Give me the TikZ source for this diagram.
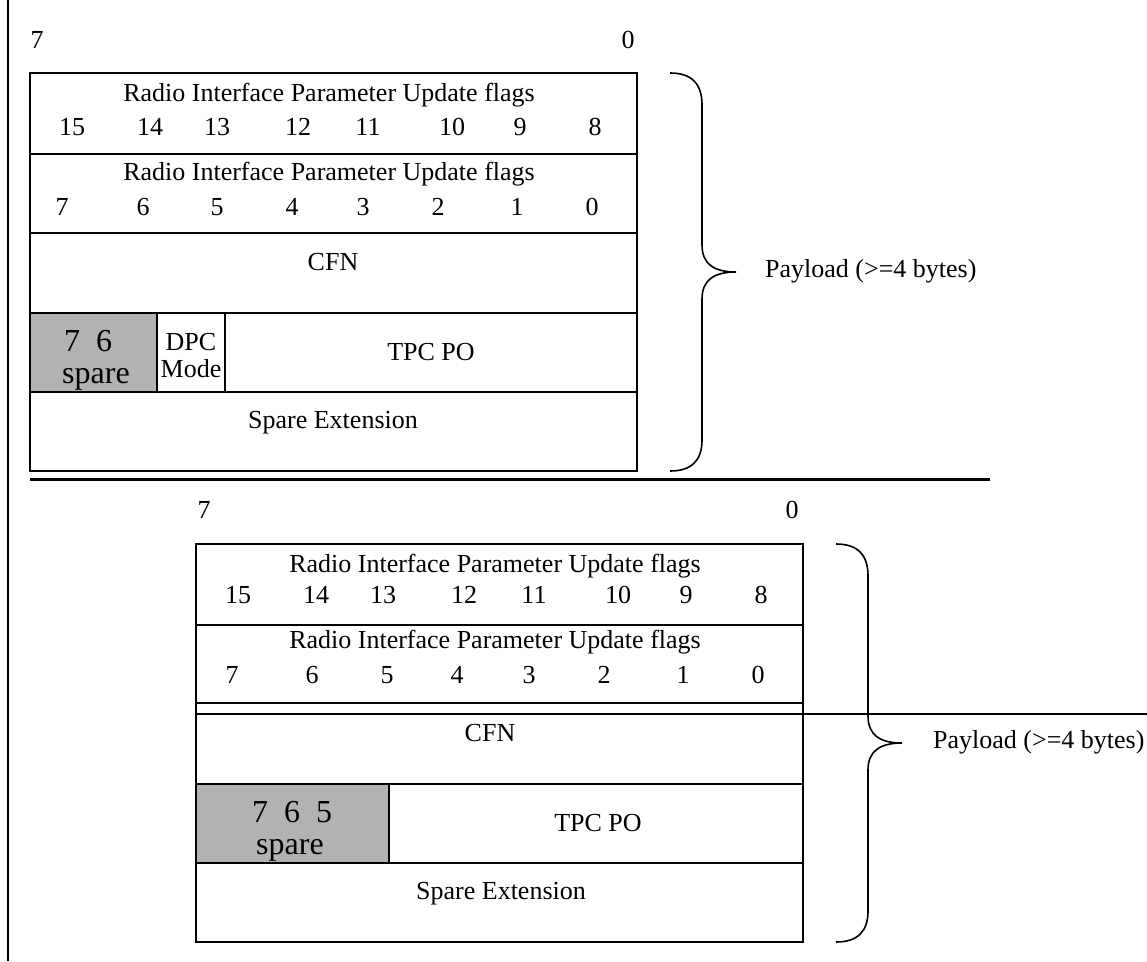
\documentclass[tikz,border=0pt]{standalone}
\usepackage{fontspec}
\setmainfont{Liberation Serif}
\usetikzlibrary{positioning}
\tikzstyle{frame}=[draw, line width=1.6pt]
\tikzstyle{sparecell}=[frame, fill=black!30]
\tikzstyle{lbl}=[inner sep=0pt, anchor=base, font=\fontsize{26}{30}\selectfont]
\tikzstyle{biglbl}=[inner sep=0pt, anchor=base, font=\fontsize{32}{36}\selectfont]
\tikzstyle{brace}=[line width=1.6pt]

\begin{document}
\begin{tikzpicture}[x=1pt,y=-1pt]
\useasboundingbox (0,0) rectangle (1147,961);

% margin line on the left
\draw[line width=2pt] (8,0) -- (8,961);

% upper frame layout (with DPC Mode)
\node (msbA) [lbl] at (37,48) {7};
\node (lsbA) [lbl] at (628,48) {0};
\filldraw[sparecell] (30,313) rectangle (157,392);
\draw[frame] (157,313) rectangle (225,392);
\draw[frame] (30,73) rectangle (637,471);
\foreach \y in {154,233,313,392}
  \draw[frame] (30,\y) -- (637,\y);
\node (flagsHiA) [lbl] at (329,101) {Radio Interface Parameter Update flags};
\foreach \n/\x in {15/72,14/150,13/217,12/298,11/368,10/452,9/520,8/595}
  \node (hiA\n) [lbl] at (\x,135) {\n};
\node (flagsLoA) [lbl] at (329,180) {Radio Interface Parameter Update flags};
\foreach \n/\x in {7/62,6/143,5/217,4/292,3/363,2/438,1/517,0/592}
  \node (loA\n) [lbl] at (\x,215) {\n};
\node (cfnA) [lbl] at (333,270) {CFN};
\node (bitsA) [biglbl] at (88,351) {7~~6};
\node (spareA) [biglbl] at (96,383) {spare};
\node (dpcA) [lbl] at (191,350) {DPC};
\node (modeA) [lbl] at (191,377) {Mode};
\node (tpcA) [lbl] at (431,360) {TPC PO};
\node (extA) [lbl] at (333,428) {Spare Extension};
\draw[brace] (670,73) .. controls (692,73) and (702,84) .. (702,105) -- (702,245)
  .. controls (702,264) and (714,272) .. (736,272)
  .. controls (714,272) and (702,280) .. (702,299) -- (702,440)
  .. controls (702,460) and (692,471) .. (670,471);
\node (payA) [lbl, anchor=base west] at (765,277) {Payload (>=4 bytes)};

% separator
\draw[line width=3pt] (30,479) -- (990,479);

% lower frame layout (no DPC Mode)
\begin{scope}[shift={(166,471)}]
\node (msbB) [lbl] at (38,47) {7};
\node (lsbB) [lbl] at (626,47) {0};
\filldraw[sparecell] (30,313) rectangle (223,392);
\draw[frame] (30,73) rectangle (637,471);
\foreach \y in {154,232,313,392}
  \draw[frame] (30,\y) -- (637,\y);
\draw[frame] (29,243) -- (981,243);
\node (flagsHiB) [lbl] at (329,101) {Radio Interface Parameter Update flags};
\foreach \n/\x in {15/72,14/150,13/217,12/298,11/368,10/452,9/520,8/595}
  \node (hiB\n) [lbl] at (\x,132) {\n};
\node (flagsLoB) [lbl] at (329,177) {Radio Interface Parameter Update flags};
\foreach \n/\x in {7/66,6/146,5/221,4/291,3/363,2/438,1/517,0/592}
  \node (loB\n) [lbl] at (\x,212) {\n};
\node (cfnB) [lbl] at (324,270) {CFN};
\node (bitsB) [biglbl] at (126,351) {7~~6~~5};
\node (spareB) [biglbl] at (124,383) {spare};
\node (tpcB) [lbl] at (432,360) {TPC PO};
\node (extB) [lbl] at (335,428) {Spare Extension};
\draw[brace] (670,73) .. controls (692,73) and (702,84) .. (702,105) -- (702,245)
  .. controls (702,264) and (714,272) .. (736,272)
  .. controls (714,272) and (702,280) .. (702,299) -- (702,440)
  .. controls (702,460) and (692,471) .. (670,471);
\node (payB) [lbl, anchor=base west] at (767,277) {Payload (>=4 bytes)};
\end{scope}
\end{tikzpicture}
\end{document}
